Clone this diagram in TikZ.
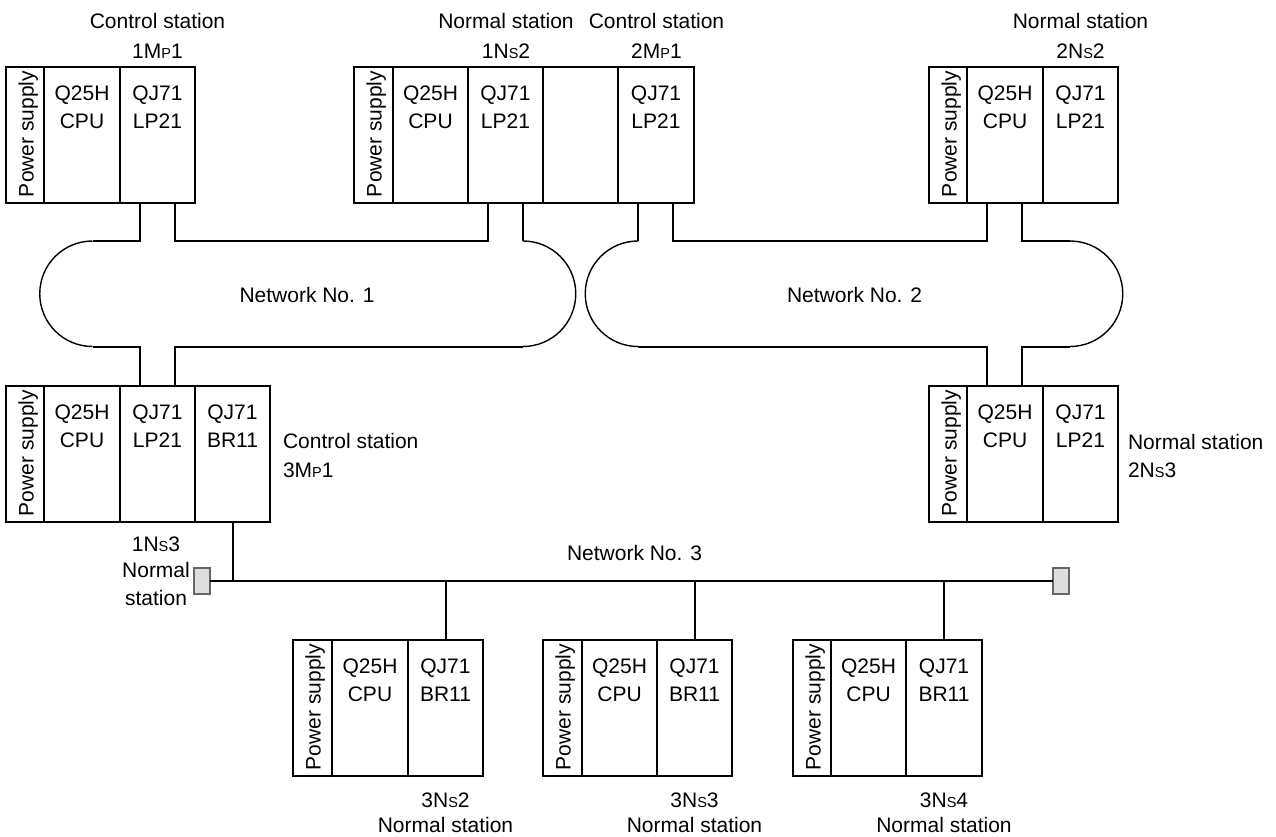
\documentclass[tikz,border=0pt]{standalone}
\usepackage{fontspec}
\setmainfont{Liberation Sans}
\usetikzlibrary{calc}
\newcommand\smc[1]{{\fontsize{14.5}{14.5}\selectfont #1}}
\newcommand\modtext[3]{%
  \node[txt] at ($(#1.north)+(0,33)$) {#2};
  \node[txt] at ($(#1.north)+(0,61)$) {#3};}
\newcommand\pstext[1]{%
  \node[txt, rotate=90, anchor=base west] at ($(#1.south west)+(27.5,-5.5)$) {Power supply};}
\begin{document}
\begin{tikzpicture}[x=1pt,y=-1pt,
  every node/.style={inner sep=0pt, outer sep=0pt},
  txt/.style={font=\fontsize{21}{24}\selectfont, anchor=base},
  mod/.style={draw, line width=2pt, rectangle, anchor=north west, minimum height=135.5pt},
  wire/.style={line width=2pt},
  ring/.style={line width=1.4pt},
  term/.style={draw=black!60, line width=1.2pt, fill=black!13, minimum width=16pt, minimum height=26pt}]
\useasboundingbox (0,0) rectangle (1276,836);

% ---------- Station A : 1MP1 ----------
\node[mod, minimum width=38pt] (a-ps) at (6,67) {};
\node[mod, minimum width=76pt] (a-cpu) at (44,67) {};
\node[mod, minimum width=75pt] (a-lp) at (120,67) {};
\pstext{a-ps}
\modtext{a-cpu}{Q25H}{CPU}
\modtext{a-lp}{QJ71}{LP21}
\node[txt] (a-t1) at (157.5,28) {Control station};
\node[txt] (a-t2) at (157.5,58) {1M\smc{P}1};

% ---------- Station B : 1NS2 / 2MP1 ----------
\node[mod, minimum width=39pt] (b-ps) at (354,67) {};
\node[mod, minimum width=75pt] (b-cpu) at (393,67) {};
\node[mod, minimum width=75pt] (b-lp1) at (468,67) {};
\node[mod, minimum width=75pt] (b-emp) at (543,67) {};
\node[mod, minimum width=76pt] (b-lp2) at (618,67) {};
\pstext{b-ps}
\modtext{b-cpu}{Q25H}{CPU}
\modtext{b-lp1}{QJ71}{LP21}
\modtext{b-lp2}{QJ71}{LP21}
\node[txt] (b-t1) at (506,28) {Normal station};
\node[txt] (b-t2) at (506,58) {1N\smc{S}2};
\node[txt] (b-t3) at (656.5,28) {Control station};
\node[txt] (b-t4) at (656.5,58) {2M\smc{P}1};

% ---------- Station C : 2NS2 ----------
\node[mod, minimum width=38pt] (c-ps) at (929,67) {};
\node[mod, minimum width=76pt] (c-cpu) at (967,67) {};
\node[mod, minimum width=75pt] (c-lp) at (1043,67) {};
\pstext{c-ps}
\modtext{c-cpu}{Q25H}{CPU}
\modtext{c-lp}{QJ71}{LP21}
\node[txt] (c-t1) at (1080.5,28) {Normal station};
\node[txt] (c-t2) at (1080.5,58) {2N\smc{S}2};

% ---------- Station D : 3MP1 ----------
\node[mod, minimum width=38pt] (d-ps) at (6,386) {};
\node[mod, minimum width=76pt] (d-cpu) at (44,386) {};
\node[mod, minimum width=75pt] (d-lp) at (120,386) {};
\node[mod, minimum width=75pt] (d-br) at (195,386) {};
\pstext{d-ps}
\modtext{d-cpu}{Q25H}{CPU}
\modtext{d-lp}{QJ71}{LP21}
\modtext{d-br}{QJ71}{BR11}
\node[txt, anchor=base west] (d-t1) at (283,448) {Control station};
\node[txt, anchor=base west] (d-t2) at (283,477) {3M\smc{P}1};
\node[txt] (d-t3) at (156,551) {1N\smc{S}3};
\node[txt] (d-t4) at (156,577) {Normal};
\node[txt] (d-t5) at (156,605) {station};

% ---------- Station E : 2NS3 ----------
\node[mod, minimum width=38pt] (e-ps) at (929,386) {};
\node[mod, minimum width=76pt] (e-cpu) at (967,386) {};
\node[mod, minimum width=75pt] (e-lp) at (1043,386) {};
\pstext{e-ps}
\modtext{e-cpu}{Q25H}{CPU}
\modtext{e-lp}{QJ71}{LP21}
\node[txt, anchor=base west] (e-t1) at (1128,449) {Normal station};
\node[txt, anchor=base west] (e-t2) at (1128,477) {2N\smc{S}3};

% ---------- Stations F, G, H : 3NS2..4 ----------
\node[mod, minimum width=39pt] (f-ps) at (293,640) {};
\node[mod, minimum width=76pt] (f-cpu) at (332,640) {};
\node[mod, minimum width=75pt] (f-br) at (408,640) {};
\pstext{f-ps}
\modtext{f-cpu}{Q25H}{CPU}
\modtext{f-br}{QJ71}{BR11}
\node[txt] (f-t1) at (445.5,807) {3N\smc{S}2};
\node[txt] (f-t2) at (445.5,832) {Normal station};

\node[mod, minimum width=39pt] (g-ps) at (543,640) {};
\node[mod, minimum width=75pt] (g-cpu) at (582,640) {};
\node[mod, minimum width=75pt] (g-br) at (657,640) {};
\pstext{g-ps}
\modtext{g-cpu}{Q25H}{CPU}
\modtext{g-br}{QJ71}{BR11}
\node[txt] (g-t1) at (694.5,807) {3N\smc{S}3};
\node[txt] (g-t2) at (694.5,832) {Normal station};

\node[mod, minimum width=38pt] (h-ps) at (793,640) {};
\node[mod, minimum width=75pt] (h-cpu) at (831,640) {};
\node[mod, minimum width=76pt] (h-br) at (906,640) {};
\pstext{h-ps}
\modtext{h-cpu}{Q25H}{CPU}
\modtext{h-br}{QJ71}{BR11}
\node[txt] (h-t1) at (944,807) {3N\smc{S}4};
\node[txt] (h-t2) at (944,832) {Normal station};

% ---------- connector points ----------
\coordinate (a-l) at ($(a-lp.south west)+(20,0)$);
\coordinate (a-r) at ($(a-lp.south west)+(55,0)$);
\coordinate (b1-l) at ($(b-lp1.south west)+(20,0)$);
\coordinate (b1-r) at ($(b-lp1.south west)+(55,0)$);
\coordinate (b2-l) at ($(b-lp2.south west)+(20,0)$);
\coordinate (b2-r) at ($(b-lp2.south west)+(55,0)$);
\coordinate (c-l) at ($(c-cpu.south west)+(20,0)$);
\coordinate (c-r) at ($(c-cpu.south west)+(55,0)$);
\coordinate (d-l) at ($(d-lp.north west)+(20,0)$);
\coordinate (d-r) at ($(d-lp.north west)+(55,0)$);
\coordinate (e-l) at ($(e-cpu.north west)+(20,0)$);
\coordinate (e-r) at ($(e-cpu.north west)+(55,0)$);

% ---------- Network No. 1 ----------
\coordinate (n1tl) at (92.5,241);
\coordinate (n1bl) at (92.5,346.5);
\coordinate (n1tr) at (b1-r |- n1tl);
\coordinate (n1br) at (b1-r |- n1bl);
\draw[wire] (a-l) -- (a-l |- n1tl) -- (n1tl);
\draw[ring] (n1tl) arc[start angle=90, end angle=270, radius=52.75pt];
\draw[wire] (n1bl) -| (d-l);
\draw[wire] (d-r) |- (n1br);
\draw[ring] (n1br) arc[start angle=-90, end angle=90, radius=52.75pt];
\draw[wire] (n1tr) -- (b1-r);
\draw[wire] (b1-l) -- (b1-l |- n1tl) -| (a-r);
\node[txt] (net1) at (307,302) {Network No. 1};

% ---------- Network No. 2 ----------
\coordinate (n2tl) at (b2-l |- n1tl);
\coordinate (n2bl) at (b2-l |- n1bl);
\coordinate (n2tr) at (1070,241);
\coordinate (n2br) at (1070,346.5);
\draw[wire] (b2-l) -- (n2tl);
\draw[ring] (n2tl) arc[start angle=90, end angle=270, radius=52.75pt];
\draw[wire] (n2bl) -| (e-l);
\draw[wire] (e-r) |- (n2br);
\draw[ring] (n2br) arc[start angle=-90, end angle=90, radius=52.75pt];
\draw[wire] (n2tr) -| (c-r);
\draw[wire] (c-l) -- (c-l |- n2tl) -| (b2-r);
\node[txt] (net2) at (854.5,302) {Network No. 2};

% ---------- Network No. 3 ----------
\node[term] (tl) at (202,581) {};
\node[term] (tr) at (1061,581) {};
\draw[wire] (tl.east) -- (tr.west);
\draw[wire] (d-br.south) -- (d-br.south |- tl.east);
\draw[wire] (f-br.north |- tl.east) -- (f-br.north);
\draw[wire] (g-br.north |- tl.east) -- (g-br.north);
\draw[wire] (h-br.north |- tl.east) -- (h-br.north);
\node[txt] (net3) at (634.5,560) {Network No. 3};
\end{tikzpicture}
\end{document}
